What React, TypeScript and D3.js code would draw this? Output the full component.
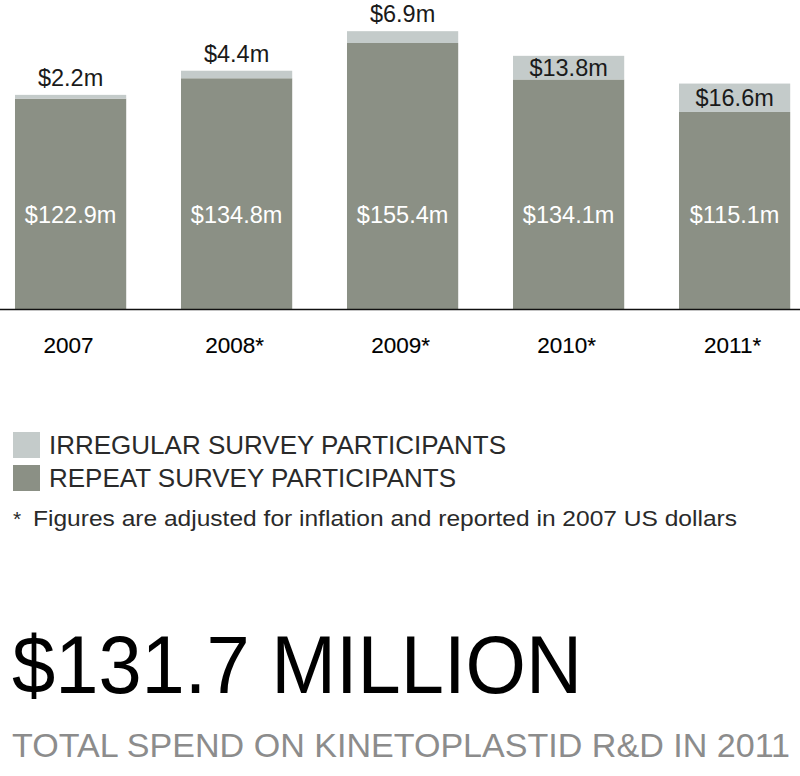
import * as d3 from "d3";

const years = ["2007", "2008*", "2009*", "2010*", "2011*"];
const repeatValues = [122.9, 134.8, 155.4, 134.1, 115.1];
const irregularValues = [2.2, 4.4, 6.9, 13.8, 16.6];
const legendLabels = ["IRREGULAR SURVEY PARTICIPANTS", "REPEAT SURVEY PARTICIPANTS"];
const footnote = "Figures are adjusted for inflation and reported in 2007 US dollars";
const headline = "$131.7 MILLION";
const subline = "TOTAL SPEND ON KINETOPLASTID R&D IN 2011";

const REPEAT = "#8b9085";
const IRREGULAR = "#c4cbca";
const FONT = "'Liberation Sans', Arial, Helvetica, sans-serif";

export default function App() {
  const width = 800;
  const height = 776;
  const baseline = 309;

  const x = d3
    .scaleBand<string>()
    .domain(years)
    .range([-12.4, 817.6])
    .paddingInner(0.33)
    .paddingOuter(0.165);

  const y = d3.scaleLinear().domain([0, 170]).range([baseline, 18]);

  const fmt = (v: number) => `$${d3.format(".1f")(v)}m`;

  return (
    <svg
      width={width}
      height={height}
      viewBox={`0 0 ${width} ${height}`}
      style={{ position: "absolute", left: 0, top: 0, background: "#fff" }}
      fontFamily={FONT}
    >
      {years.map((yr, i) => {
        const bx = x(yr)!;
        const bw = x.bandwidth();
        const cx = bx + bw / 2;
        const rTop = y(repeatValues[i]);
        const tTop = y(repeatValues[i] + irregularValues[i]);
        const band = rTop - tTop;
        // small irregular bands get their label above the bar
        const inside = band > 18;
        return (
          <g key={yr}>
            <rect x={bx} y={rTop} width={bw} height={baseline - rTop} fill={REPEAT} />
            <rect x={bx} y={tTop} width={bw} height={band} fill={IRREGULAR} />
            <text x={cx} y={223} textAnchor="middle" fontSize={23.5} fill="#fff">
              {fmt(repeatValues[i])}
            </text>
            <text
              x={cx}
              y={inside ? (tTop + rTop) / 2 + 8.5 : tTop - 9}
              textAnchor="middle"
              fontSize={23.5}
              fill="#1a1a1a"
            >
              {fmt(irregularValues[i])}
            </text>
            <text
              x={cx - 2}
              y={353}
              textAnchor="middle"
              fontSize={22.5}
              fill="#000"
              stroke="#000"
              strokeWidth={0.12}
            >
              {yr}
            </text>
          </g>
        );
      })}

      <line x1={0} x2={width} y1={baseline + 0.5} y2={baseline + 0.5} stroke="#111" strokeWidth={1.6} />

      {/* Legend */}
      {legendLabels.map((lab, i) => (
        <g key={lab} transform={`translate(0,${i * 33})`}>
          <rect x={13} y={432} width={27} height={26} fill={i === 0 ? IRREGULAR : REPEAT} />
          <text x={49} y={454} fontSize={25.5} fill="#2a2a2a" textLength={i === 0 ? 457 : 407} lengthAdjust="spacingAndGlyphs">
            {lab}
          </text>
        </g>
      ))}
      <text x={13} y={526} fontSize={21} fill="#2a2a2a">*</text>
      <text x={33} y={526} fontSize={22} fill="#2a2a2a" textLength={704} lengthAdjust="spacingAndGlyphs">
        {footnote}
      </text>

      <text x={12} y={693} fontSize={81} fill="#000" textLength={570} lengthAdjust="spacingAndGlyphs">
        {headline}
      </text>
      <text x={12} y={757} fontSize={33.5} fill="#8c8c8c" textLength={778} lengthAdjust="spacingAndGlyphs">
        {subline}
      </text>
    </svg>
  );
}
